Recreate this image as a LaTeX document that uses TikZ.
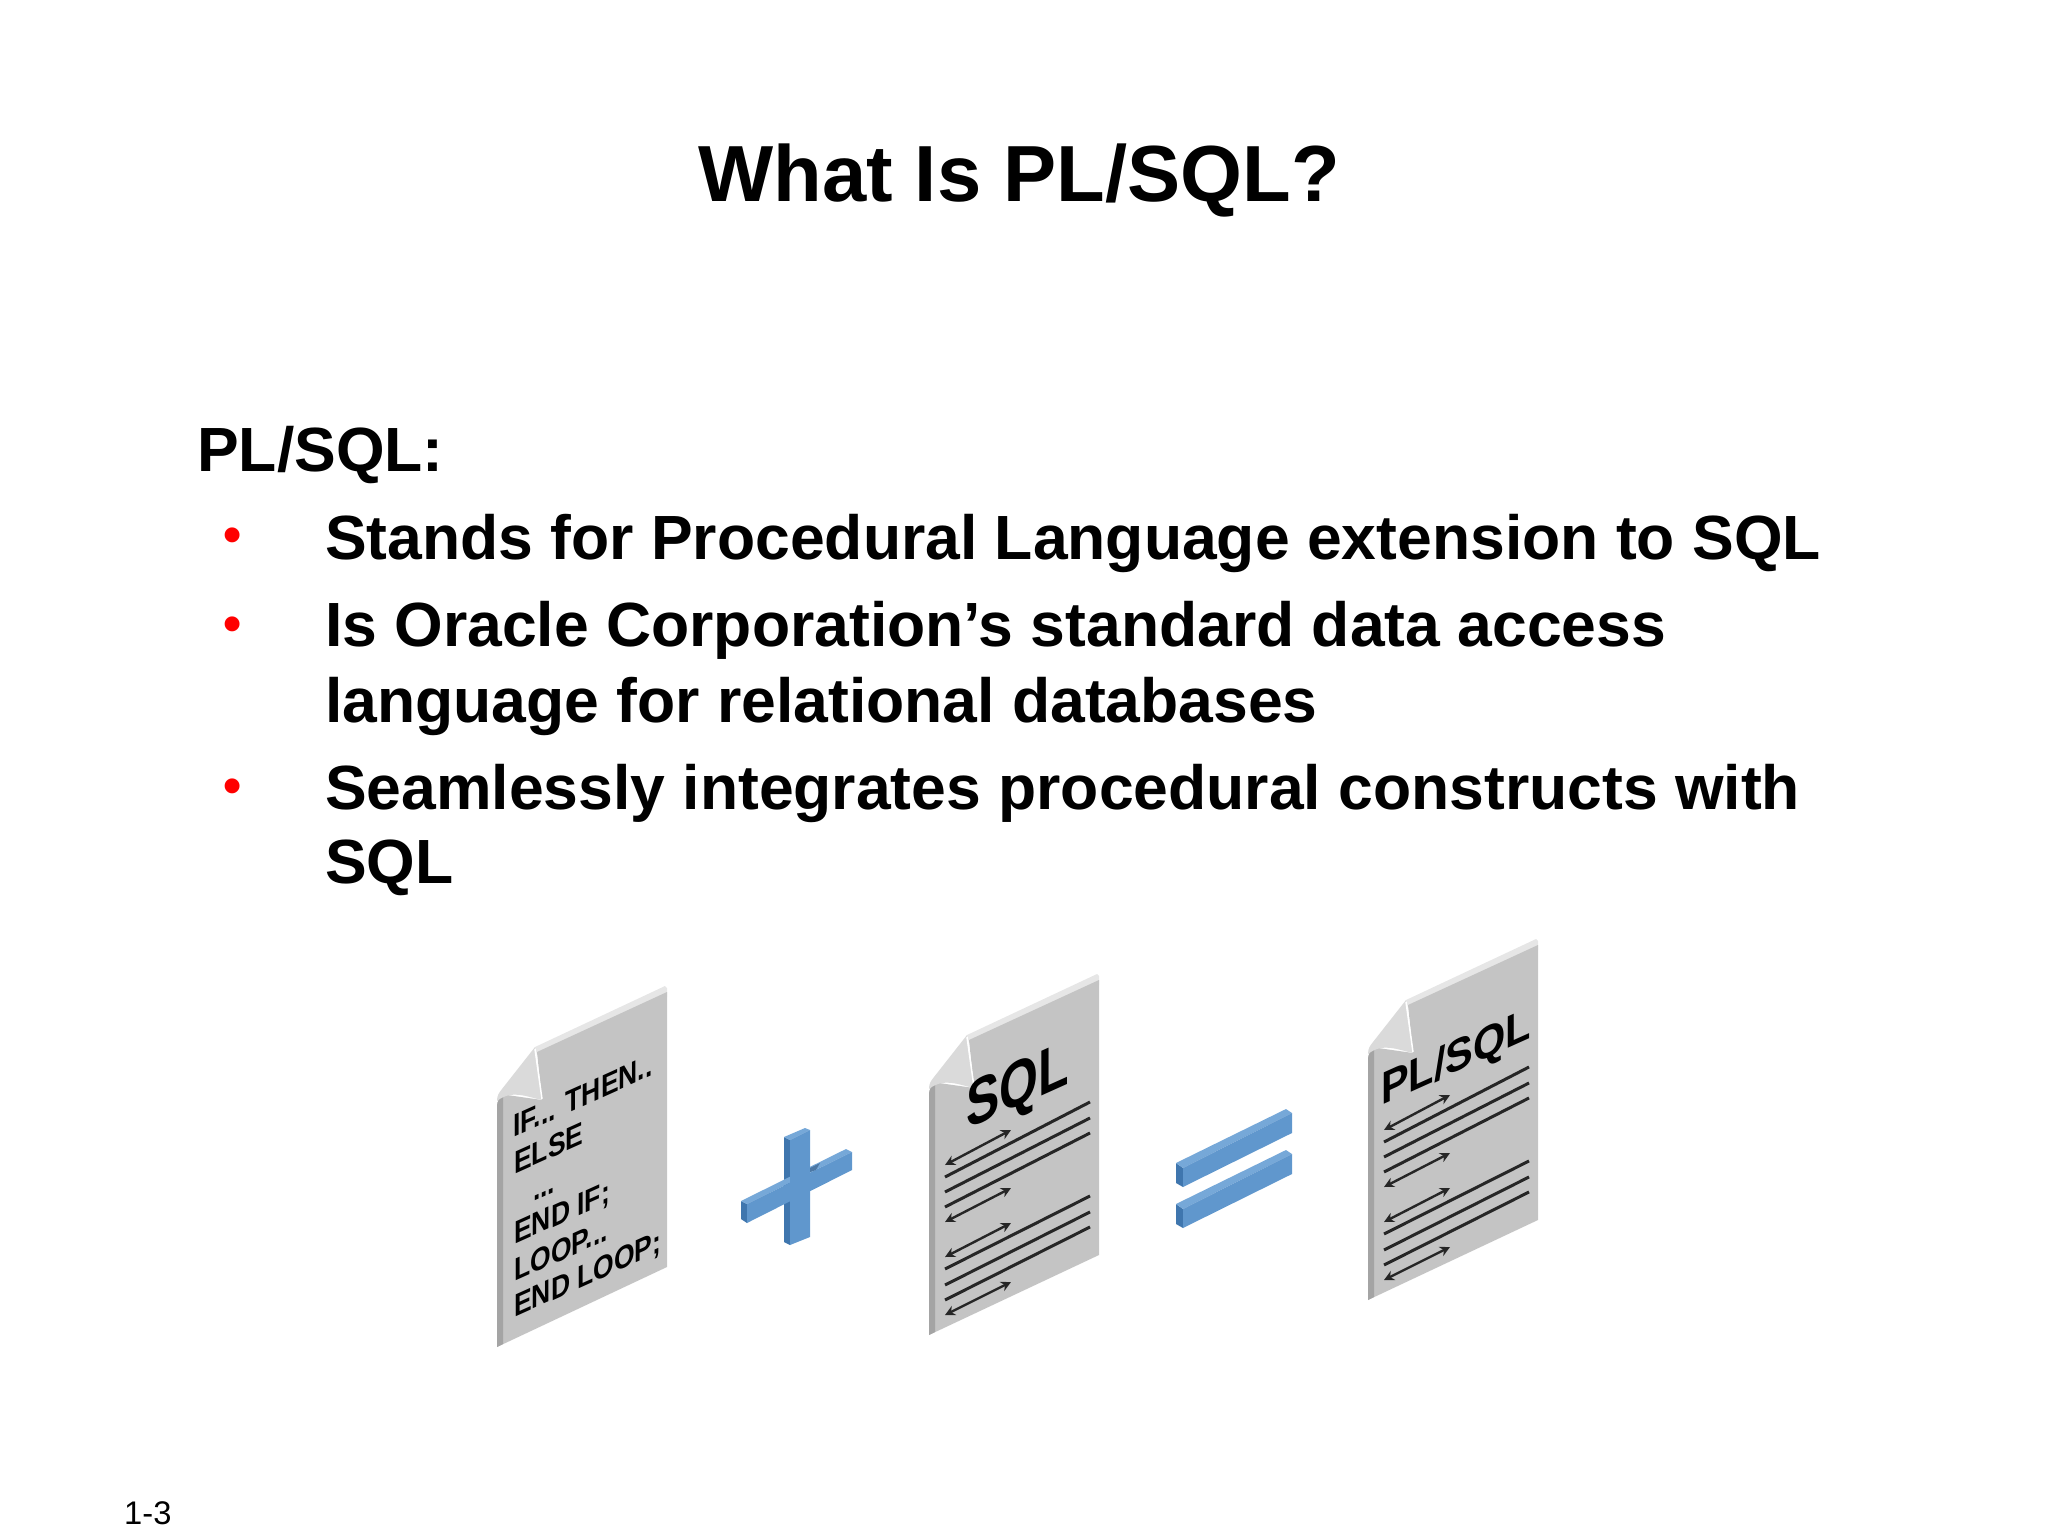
\documentclass[tikz,border=0pt]{standalone}
\usepackage{fontspec}
\usetikzlibrary{arrows.meta}
\setmainfont{Liberation Sans}
\definecolor{sheetgray}{HTML}{C4C4C4}
\definecolor{sheetside}{HTML}{A4A4A4}
\definecolor{sheetedge}{HTML}{E6E6E6}
\definecolor{sheetfold}{HTML}{DADADA}
\definecolor{barfront}{HTML}{6097CD}
\definecolor{bartop}{HTML}{76A8D8}
\definecolor{barside}{HTML}{3F76AE}
\tikzset{
	bodytext/.style = {anchor = base west, inner sep = 0pt, font = \fontsize{62.45}{62.45}\selectfont\bfseries},
	dotmark/.style = {anchor = base, inner sep = 0pt, text = red, font = \fontsize{52}{52}\selectfont\bfseries},
	sheettext/.style = {anchor = base west, inner sep = 0pt, yslant = 0.45, yscale = 1.2, transform shape, font = \fontsize{26.5}{26.5}\selectfont\bfseries},
	sheethead/.style = {anchor = base west, inner sep = 0pt, yslant = 0.45, transform shape, font = \bfseries},
	rule/.style = {line width = 3pt, black!85},
	ruletip/.style = {line width = 2.4pt, black!85, {Stealth[length = 10pt, width = 10pt]}-{Stealth[length = 10pt, width = 10pt]}}
}
% blank sheet with its bent corner, (#1,#2) is the lower left corner
\newcommand{\blanksheet}[2]{
	\begin{scope}[shift = {(#1,#2)}]
		\fill[sheetedge] (38,-300) -- (168,-361) -- (170,-359) -- (170,-350) -- (40,-292) -- cycle;
		\fill[sheetgray] (0,0) -- (0,-240) .. controls (0,-248) and (4,-250) .. (10,-252) -- (45,-247) -- (40,-295) -- (170,-355) -- (170,-80) -- cycle;
		\fill[sheetside] (0,0) -- (0,-240) .. controls (0,-246) and (2,-249) .. (6,-250) -- (6,-3) -- cycle;
		\fill[sheetfold] (0,-246) .. controls (0,-252) and (2,-254) .. (5,-258) -- (38,-300) -- (45,-247) .. controls (30,-250) and (15,-258) .. (0,-246) -- cycle;
		\draw[white, line width = 1.5pt] (38,-298) -- (45,-248);
	\end{scope}
}
% the two groups of lines and arrows on the SQL sheets
\newcommand{\sheetlines}[2]{
	\begin{scope}[shift = {(#1,#2)}]
		\draw[rule] (16,-158) -- (161,-233);
		\draw[rule] (16,-143) -- (161,-217);
		\draw[rule] (16,-128) -- (161,-202);
		\draw[rule] (16,-66) -- (161,-139);
		\draw[rule] (16,-50) -- (161,-123);
		\draw[rule] (16,-35) -- (161,-108);
		\draw[ruletip] (16,-170) -- (82,-205);
		\draw[ruletip] (16,-113) -- (82,-147);
		\draw[ruletip] (16,-78) -- (82,-112);
		\draw[ruletip] (16,-20) -- (82,-53);
	\end{scope}
}
% one bar of the equals sign
\newcommand{\equalsbar}[1]{
	\begin{scope}[shift = {(0,#1)}]
		\fill[barside] (1176,1163) -- (1176,1183) -- (1183,1187) -- (1183,1168) -- cycle;
		\fill[bartop] (1176,1163) -- (1286,1109) -- (1292,1113) -- (1183,1168) -- cycle;
		\fill[barfront] (1183,1168) -- (1292,1113) -- (1292,1133) -- (1183,1187) -- cycle;
	\end{scope}
}
\begin{document}
\begin{tikzpicture}[x = 1pt, y = -1pt]
	\useasboundingbox (0,0) rectangle (2048,1536);
	\node (title) at (1019,201) [anchor = base, inner sep = 0pt, font = \fontsize{79.6}{79.6}\selectfont\bfseries] {What Is PL/SQL?};
	\node (head) at (197,471.5) [bodytext] {PL/SQL:};
	\node (dota) at (233,552) [dotmark] {•};
	\node (linea) at (325,559.5) [bodytext] {Stands for Procedural Language extension to SQL};
	\node (dotb) at (233,641) [dotmark] {•};
	\node (lineb) at (325,646.5) [bodytext] {Is Oracle Corporation’s standard data access};
	\node (linec) at (325,722.5) [bodytext] {language for relational databases};
	\node (dotc) at (233,803) [dotmark] {•};
	\node (lined) at (325,809.5) [bodytext] {Seamlessly integrates procedural constructs with};
	\node (linee) at (325,883.5) [bodytext] {SQL};
	\node (pageno) at (124,1524) [anchor = base west, inner sep = 0pt, font = \fontsize{32.7}{32.7}\selectfont] {1-3};

	\blanksheet{497}{1347}
	\node (ifthen) at (513,1138) [sheettext] {IF... THEN..};
	\node (else) at (514,1175) [sheettext] {ELSE};
	\node (dots) at (533,1202) [sheettext] {...};
	\node (endif) at (514,1245) [sheettext] {END IF;};
	\node (loop) at (514,1282) [sheettext] {LOOP...};
	\node (endloop) at (514,1318) [sheettext] {END LOOP;};

	\fill[barside] (784,1137) -- (784,1242) -- (790,1245) -- (790,1140) -- cycle;
	\fill[barside] (741,1201) -- (741,1219) -- (747,1223) -- (747,1204) -- cycle;
	\fill[bartop] (741,1201) -- (846,1149) -- (852,1152) -- (747,1204) -- cycle;
	\fill[barfront] (747,1204) -- (852,1152) -- (852,1170) -- (747,1223) -- cycle;
	\fill[bartop] (784,1137) -- (805,1128) -- (810,1130) -- (790,1140) -- cycle;
	\fill[barfront] (790,1140) -- (810,1130) -- (810,1237) -- (790,1245) -- cycle;
	\fill[barside!80!gray] (810,1168) -- (820,1163) -- (816,1170) -- (810,1172) -- cycle;

	\blanksheet{929}{1335}
	\sheetlines{929}{1335}
	\node (sqlword) at (966,1130) [sheethead, yscale = 1.3, font = \fontsize{50}{50}\selectfont\bfseries] {SQL};

	\equalsbar{0}
	\equalsbar{41}

	\blanksheet{1368}{1300}
	\sheetlines{1368}{1300}
	\node (plsqlword) at (1381,1106) [sheethead, yscale = 1.1, font = \fontsize{41.5}{41.5}\selectfont\bfseries] {PL/SQL};
\end{tikzpicture}
\end{document}
